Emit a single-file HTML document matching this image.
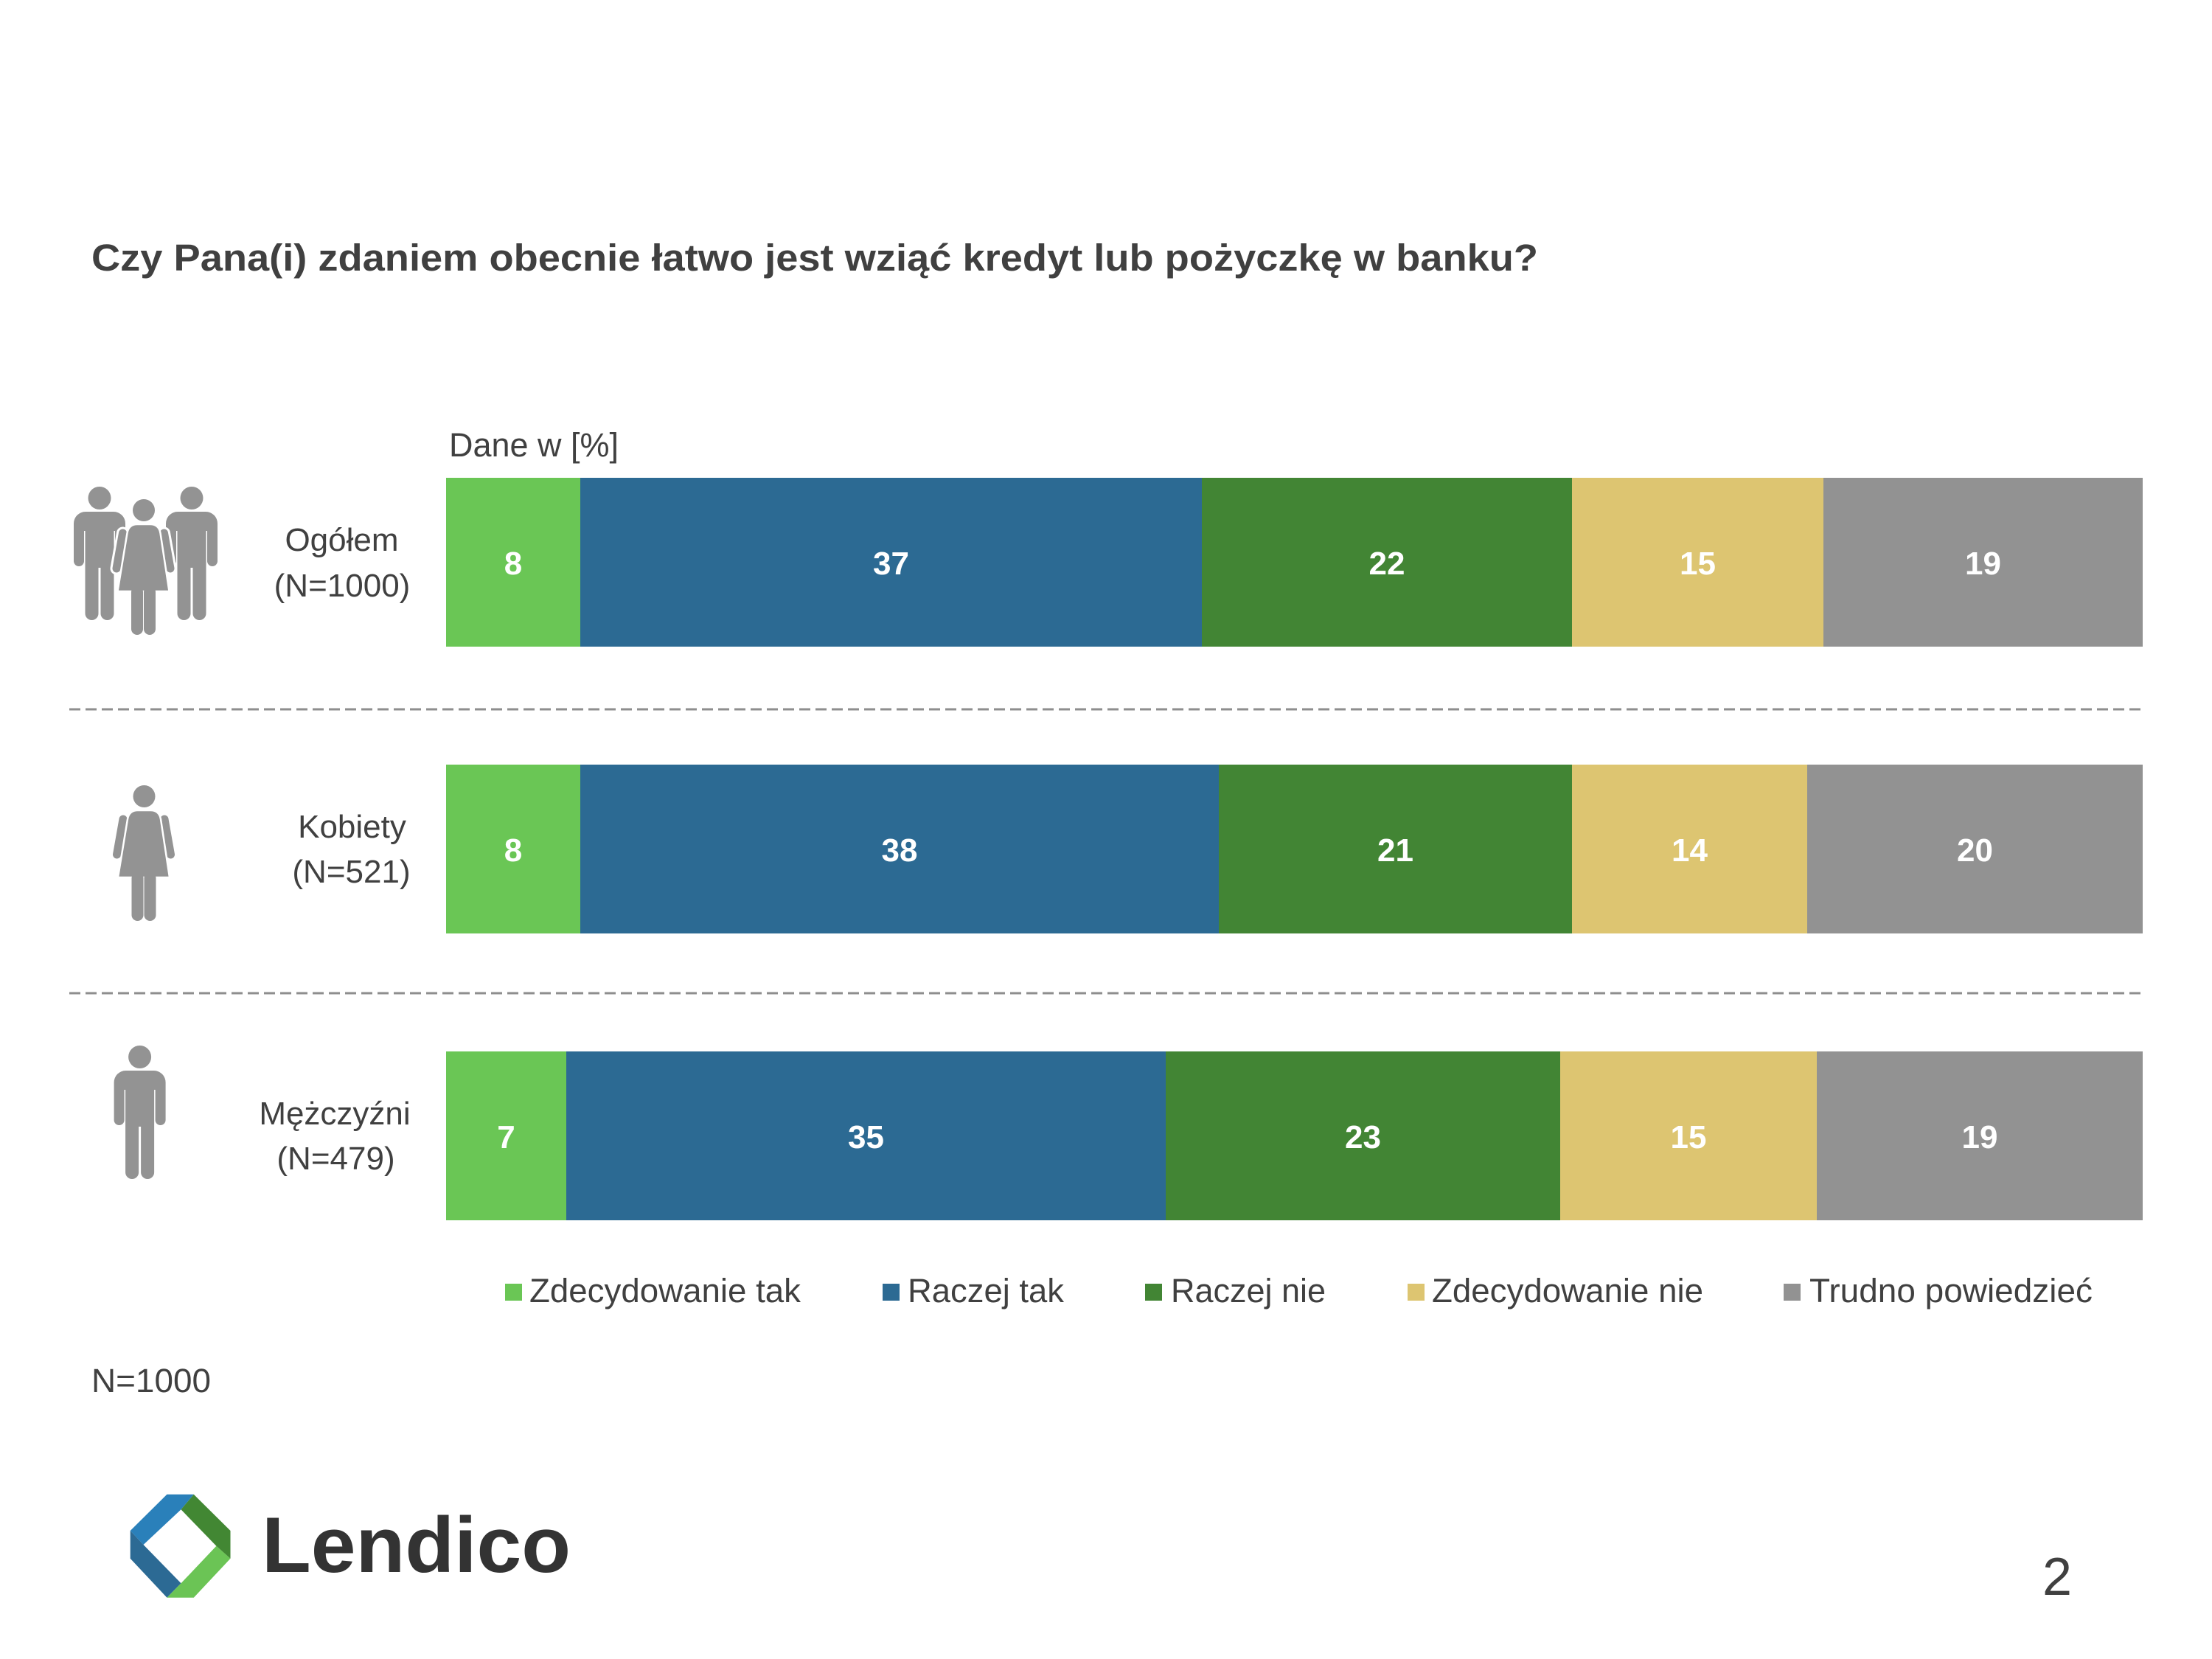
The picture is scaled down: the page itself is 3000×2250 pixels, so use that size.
<!DOCTYPE html>
<html>
<head>
<meta charset="utf-8">
<style>
  html,body{margin:0;padding:0;background:#ffffff;}
  body{width:3000px;height:2250px;overflow:hidden;}
  svg{display:block;}
  .t{font-family:"Liberation Sans","DejaVu Sans",sans-serif;fill:#404040;}
  .b{font-family:"Liberation Sans","DejaVu Sans",sans-serif;font-weight:bold;fill:#ffffff;font-size:44px;text-anchor:middle;}
</style>
</head>
<body>
<svg width="3000" height="2250" viewBox="0 0 3000 2250" xmlns="http://www.w3.org/2000/svg">
  <rect x="0" y="0" width="3000" height="2250" fill="#ffffff"/>
  <defs>
    <g id="man">
      <circle cx="35" cy="15.5" r="15.5"/>
      <path d="M0,50 A16,16 0 0 1 16,34 L54,34 A16,16 0 0 1 70,50 L70,101 A7,7 0 0 1 56,101 L56,60 L54.5,60 L54.5,172 A9,9 0 0 1 36.5,172 L36.5,110 L33.5,110 L33.5,172 A9,9 0 0 1 15.5,172 L15.5,60 L14,60 L14,101 A7,7 0 0 1 0,101 Z"/>
    </g>
    <g id="womanOutline" fill="#ffffff" stroke="#ffffff">
      <circle cx="42.5" cy="15" r="15" stroke-width="6"/>
      <line x1="14" y1="46" x2="5.5" y2="94" stroke-width="17" stroke-linecap="round"/>
      <line x1="70" y1="46" x2="78.5" y2="94" stroke-width="17" stroke-linecap="round"/>
      <path d="M20,46 Q22,34 34,34 L51,34 Q63,34 65,46 L77,125 L7,125 Z" stroke-width="6"/>
      <rect x="25.5" y="118" width="16" height="66" rx="8" stroke-width="6"/>
      <rect x="42.5" y="118" width="16" height="66" rx="8" stroke-width="6"/>
    </g>
    <g id="woman">
      <circle cx="42.5" cy="15" r="15" fill="#939393"/>
      <line x1="14" y1="46" x2="5.5" y2="94" stroke="#939393" stroke-width="11" stroke-linecap="round"/>
      <line x1="70" y1="46" x2="78.5" y2="94" stroke="#939393" stroke-width="11" stroke-linecap="round"/>
      <path d="M20,46 Q22,34 34,34 L51,34 Q63,34 65,46 L77,125 L7,125 Z" fill="#939393" stroke="#ffffff" stroke-width="2.5"/>
      <rect x="25.5" y="118" width="16" height="66" rx="8" fill="#939393"/>
      <rect x="42.5" y="118" width="16" height="66" rx="8" fill="#939393"/>
      <rect x="41.5" y="125" width="1" height="59" fill="#ffffff"/>
    </g>
  </defs>

  <!-- Title -->
  <text class="t" x="124" y="367" font-size="51" font-weight="bold" textLength="1962" lengthAdjust="spacingAndGlyphs">Czy Pana(i) zdaniem obecnie łatwo jest wziąć kredyt lub pożyczkę w banku?</text>

  <!-- Dane w [%] -->
  <text class="t" x="609" y="619" font-size="45" textLength="230" lengthAdjust="spacingAndGlyphs">Dane w [%]</text>

  <!-- Icons -->
  <g fill="#939393">
    <use href="#man" transform="translate(100,660)"/>
    <use href="#man" transform="translate(225,660)"/>
  </g>
  <use href="#womanOutline" transform="translate(152.5,677)"/>
  <use href="#woman" transform="translate(152.5,677)"/>

  <use href="#woman" transform="translate(153,1065)"/>

  <g fill="#939393">
    <use href="#man" transform="translate(154.6,1418)"/>
  </g>

  <!-- Category labels -->
  <g class="t" font-size="44" text-anchor="middle">
    <text x="463.5" y="747">Ogółem</text>
    <text x="464" y="809">(N=1000)</text>
    <text x="477.5" y="1136">Kobiety</text>
    <text x="476.5" y="1197">(N=521)</text>
    <text x="454" y="1525">Mężczyźni</text>
    <text x="455.5" y="1586">(N=479)</text>
  </g>

  <!-- Bar 1 -->
  <rect x="605" y="648" width="182" height="229" fill="#6AC655"/>
  <rect x="787" y="648" width="843" height="229" fill="#2C6A93"/>
  <rect x="1630" y="648" width="502" height="229" fill="#428534"/>
  <rect x="2132" y="648" width="341" height="229" fill="#DDC571"/>
  <rect x="2473" y="648" width="433" height="229" fill="#929292"/>
  <text class="b" x="696" y="779">8</text>
  <text class="b" x="1208.5" y="779">37</text>
  <text class="b" x="1881" y="779">22</text>
  <text class="b" x="2302.5" y="779">15</text>
  <text class="b" x="2689.5" y="779">19</text>

  <!-- Bar 2 -->
  <rect x="605" y="1037" width="182" height="229" fill="#6AC655"/>
  <rect x="787" y="1037" width="866" height="229" fill="#2C6A93"/>
  <rect x="1653" y="1037" width="479" height="229" fill="#428534"/>
  <rect x="2132" y="1037" width="319" height="229" fill="#DDC571"/>
  <rect x="2451" y="1037" width="455" height="229" fill="#929292"/>
  <text class="b" x="696" y="1168">8</text>
  <text class="b" x="1220" y="1168">38</text>
  <text class="b" x="1892.5" y="1168">21</text>
  <text class="b" x="2291.5" y="1168">14</text>
  <text class="b" x="2678.5" y="1168">20</text>

  <!-- Bar 3 -->
  <rect x="605" y="1426" width="163" height="229" fill="#6AC655"/>
  <rect x="768" y="1426" width="813" height="229" fill="#2C6A93"/>
  <rect x="1581" y="1426" width="535" height="229" fill="#428534"/>
  <rect x="2116" y="1426" width="348" height="229" fill="#DDC571"/>
  <rect x="2464" y="1426" width="442" height="229" fill="#929292"/>
  <text class="b" x="686.5" y="1557">7</text>
  <text class="b" x="1174.5" y="1557">35</text>
  <text class="b" x="1848.5" y="1557">23</text>
  <text class="b" x="2290" y="1557">15</text>
  <text class="b" x="2685" y="1557">19</text>

  <!-- Dashed separators -->
  <line x1="94" y1="962" x2="2906" y2="962" stroke="#8E8E8E" stroke-width="3" stroke-dasharray="15 7"/>
  <line x1="94" y1="1347" x2="2906" y2="1347" stroke="#8E8E8E" stroke-width="3" stroke-dasharray="15 7"/>

  <!-- Legend -->
  <rect x="685" y="1741" width="23" height="23" fill="#6AC655"/>
  <text class="t" x="718" y="1766" font-size="45.5" textLength="368" lengthAdjust="spacingAndGlyphs">Zdecydowanie tak</text>
  <rect x="1197" y="1741" width="23" height="23" fill="#2C6A93"/>
  <text class="t" x="1231" y="1766" font-size="45.5" textLength="212" lengthAdjust="spacingAndGlyphs">Raczej tak</text>
  <rect x="1553" y="1741" width="23" height="23" fill="#428534"/>
  <text class="t" x="1588" y="1766" font-size="45.5" textLength="210" lengthAdjust="spacingAndGlyphs">Raczej nie</text>
  <rect x="1909" y="1741" width="23" height="23" fill="#DDC571"/>
  <text class="t" x="1942" y="1766" font-size="45.5" textLength="368" lengthAdjust="spacingAndGlyphs">Zdecydowanie nie</text>
  <rect x="2419" y="1741" width="23" height="23" fill="#929292"/>
  <text class="t" x="2454" y="1766" font-size="45.5" textLength="384" lengthAdjust="spacingAndGlyphs">Trudno powiedzieć</text>

  <!-- N=1000 -->
  <text class="t" x="124" y="1888" font-size="45" textLength="162" lengthAdjust="spacingAndGlyphs">N=1000</text>

  <!-- Logo -->
  <polygon points="226.4,2026.8 262.8,2026.8 245.5,2047.3 194.5,2095 176.7,2076" fill="#2A80BA"/>
  <polygon points="176.7,2076 194.5,2095 245.5,2147.3 226.4,2166.7 176.7,2113.8" fill="#2C6A94"/>
  <polygon points="226.4,2166.7 262.8,2166.7 312.5,2113.8 293.4,2096.8 245.5,2147.3" fill="#6BC455"/>
  <polygon points="262.8,2026.8 312.5,2076 312.5,2113.8 293.4,2096.8 245.5,2047.3" fill="#428733"/>
  <text x="355" y="2132" font-family="'Liberation Sans','DejaVu Sans',sans-serif" font-weight="bold" font-size="107" fill="#333333" textLength="419" lengthAdjust="spacingAndGlyphs">Lendico</text>

  <!-- Page number -->
  <text class="t" x="2770" y="2163" font-size="72">2</text>
</svg>
</body>
</html>
